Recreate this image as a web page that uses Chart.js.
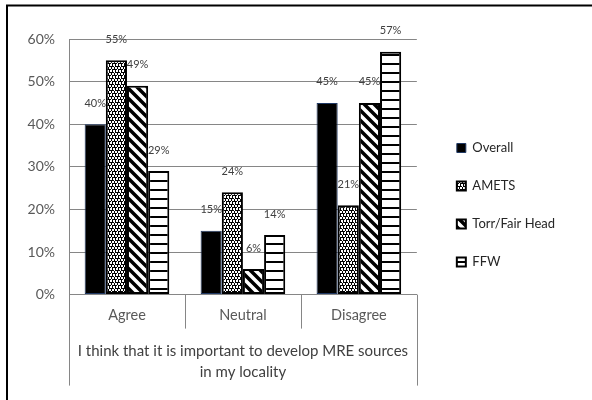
<!DOCTYPE html>
<html>
<head>
<meta charset="utf-8">
<script src="https://cdn.jsdelivr.net/npm/chart.js@4/dist/chart.umd.min.js"></script>
<style>
  html, body { margin: 0; padding: 0; background: #fff; }
  #wrap { width: 592px; height: 400px; }
</style>
</head>
<body>
<div id="wrap"><canvas id="chart" width="592" height="400"></canvas></div>
<script>
async function draw(){

const categories = ["Agree", "Neutral", "Disagree"];
const groupTitle = ["I think that it is important to develop MRE sources", "in my locality"];
const seriesNames = ["Overall", "AMETS", "Torr/Fair Head", "FFW"];

// percentages
const overall = [40, 15, 45];
const amets = [55, 24, 21];
const torr = [49, 6, 45];
const ffw = [29, 14, 57];

const yTicks = [0, 10, 20, 30, 40, 50, 60];

const axisGrey = "#868686";
const textGrey = "#595959";

// little tiles for the Excel-style fills
function makePattern(kind) {
  const c = document.createElement("canvas");
  const x = c.getContext("2d");
  if (kind === "dots") {
    // staggered white dots on black
    c.width = 6; c.height = 6;
    x.fillStyle = "#000"; x.fillRect(0, 0, 6, 6);
    x.fillStyle = "#fff";
    x.fillRect(1, 1, 2, 2); x.fillRect(4, 1, 2, 2);
    x.fillRect(0, 4, 1, 2); x.fillRect(2, 4, 2, 2); x.fillRect(5, 4, 1, 2);
    x.fillRect(0, 0, 1, 1); x.fillRect(3, 3, 1, 1);
  } else if (kind === "diag") {
    c.width = 10; c.height = 10;
    x.fillStyle = "#fff"; x.fillRect(0, 0, 10, 10);
    x.strokeStyle = "#000"; x.lineWidth = 3.5;
    x.beginPath();
    x.moveTo(-5, -5); x.lineTo(15, 15);
    x.moveTo(-5, 5); x.lineTo(5, 15);
    x.moveTo(5, -5); x.lineTo(15, 5);
    x.stroke();
  } else {
    c.width = 9; c.height = 9;
    x.fillStyle = "#fff"; x.fillRect(0, 0, 9, 9);
    x.fillStyle = "#000"; x.fillRect(0, 0, 9, 2);
  }
  return x.createPattern(c, "repeat");
}

var ctx = document.getElementById("chart").getContext("2d");

// frame (only top + left edges are visible in the crop), category dividers, value labels
const extras = {
  id: "extras",
  beforeDraw(chart) {
    const c = chart.ctx;
    c.save();
    c.strokeStyle = "#000";
    c.lineWidth = 2;
    c.beginPath();
    c.moveTo(7, 400); c.lineTo(7, 5.5); c.lineTo(592, 5.5);
    c.stroke();
    c.restore();
  },
  afterDraw(chart) {
    const c = chart.ctx;
    const xs = chart.scales.x;
    const area = chart.chartArea;
    const step = (xs.right - xs.left) / categories.length;
    c.save();
    c.strokeStyle = axisGrey;
    c.lineWidth = 1;
    c.beginPath();
    for (let i = 0; i <= categories.length; i++) {
      const px = Math.round(xs.left + i * step) + 0.5;
      const outer = (i === 0 || i === categories.length);
      c.moveTo(px, area.bottom);
      c.lineTo(px, outer ? area.bottom + 91 : area.bottom + 34);
    }
    c.stroke();
    c.restore();
  },
  afterDatasetsDraw(chart) {
    const c = chart.ctx;
    c.save();
    c.font = "11px Lato";
    c.fillStyle = "#404040";
    c.textAlign = "center";
    c.textBaseline = "middle";
    chart.data.datasets.forEach((ds, di) => {
      chart.getDatasetMeta(di).data.forEach((bar, i) => {
        c.fillText(ds.data[i] + "%", bar.x, bar.y - 21);
      });
    });
    c.restore();
  }
};

var chart = new Chart(ctx, {
  type: "bar",
  data: {
    labels: categories,
    datasets: [
      { label: seriesNames[0], data: overall, backgroundColor: "#000", borderColor: "#1f3864", borderWidth: 1 },
      { label: seriesNames[1], data: amets, backgroundColor: makePattern("dots"), borderColor: "#000", borderWidth: 2 },
      { label: seriesNames[2], data: torr, backgroundColor: makePattern("diag"), borderColor: "#000", borderWidth: 2 },
      { label: seriesNames[3], data: ffw, backgroundColor: makePattern("hline"), borderColor: "#000", borderWidth: 2 }
    ]
  },
  options: {
    responsive: false,
    animation: false,
    devicePixelRatio: 1,
    layout: { padding: { top: 10, left: 10, right: 27, bottom: 0 } },
    datasets: { bar: { barPercentage: 1, categoryPercentage: 0.73, borderSkipped: false } },
    plugins: {
      tooltip: { enabled: false },
      legend: {
        position: "right",
        labels: {
          boxWidth: 9,
          boxHeight: 9,
          padding: 25,
          color: "#262626",
          font: { family: "Lato", size: 13 }
        }
      }
    },
    scales: {
      x: {
        grid: { display: false, drawTicks: false },
        border: { display: true, color: axisGrey },
        ticks: { color: textGrey, font: { family: "Lato", size: 14.5 }, padding: 12 },
        title: {
          display: true,
          text: groupTitle,
          color: "#404040",
          font: { family: "Lato", size: 15, lineHeight: 1.4 },
          padding: { top: 5, bottom: 17 }
        }
      },
      y: {
        min: yTicks[0],
        max: yTicks[yTicks.length - 1],
        afterBuildTicks(s) { s.ticks = yTicks.map(v => ({ value: v })); },
        afterFit(s) { s.width = 59; },
        grid: { color: axisGrey, drawTicks: false },
        border: { display: true, color: axisGrey },
        ticks: { color: textGrey, font: { family: "Lato", size: 14 }, padding: 14, callback: v => v + "%" }
      },
      gapRight: {
        type: "linear",
        axis: "y",
        position: "right",
        display: false,
        afterFit(s) { s.width = 15; }
      },
      gapTop: {
        type: "linear",
        axis: "x",
        position: "top",
        display: false,
        afterFit(s) { s.height = 29; }
      }
    }
  },
  plugins: [extras]
});
} draw()
</script>
</body>
</html>
